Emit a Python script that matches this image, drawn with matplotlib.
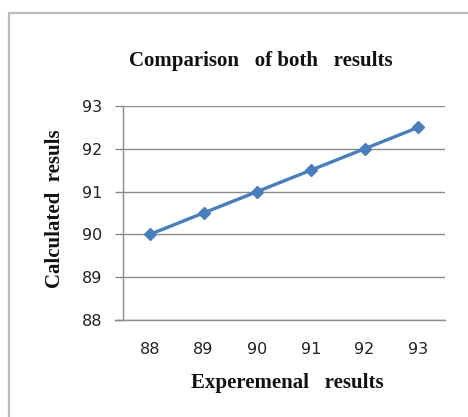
import matplotlib.pyplot as plt
from matplotlib.patches import Rectangle

experimental = ["88", "89", "90", "91", "92", "93"]
calculated = [90, 90.5, 91, 91.5, 92, 92.5]
y_ticks = [88, 89, 90, 91, 92, 93]

W, H = 468, 417
DPI = 100


def fx(px):
    return px / W


def fy(py):
    return 1 - py / H


def main():
    fig = plt.figure(figsize=(W / DPI, H / DPI), dpi=DPI)
    fig.patch.set_facecolor("white")

    # chart border
    fig.patches.append(Rectangle((fx(9), fy(470)), fx(480), fy(13) - fy(470),
                                 transform=fig.transFigure, fill=False,
                                 edgecolor="#bdbdbd", lw=1.6))

    ax = fig.add_axes([fx(123), fy(320), fx(445) - fx(123), fy(106) - fy(320)])
    pos = list(range(len(experimental)))
    ax.plot(pos, calculated, color="#4a7ebb", lw=2.4, marker="D", ms=6.5,
            markeredgecolor="#4a7ebb", markerfacecolor="#4a7ebb", zorder=3,
            clip_on=False)

    ax.set_xlim(-0.5, len(experimental) - 0.5)
    ax.set_ylim(88, 93)
    ax.set_yticks(y_ticks)
    ax.set_xticks(pos)
    ax.set_xticklabels(experimental)

    grid = "#8c8c8c"
    ax.yaxis.grid(True, color=grid, lw=1.0)
    ax.set_axisbelow(True)
    for s in ("top", "right"):
        ax.spines[s].set_visible(False)
    ax.spines["left"].set_color(grid)
    ax.spines["bottom"].set_color(grid)
    ax.spines["left"].set_linewidth(1.0)
    ax.spines["bottom"].set_linewidth(1.0)
    ax.spines["bottom"].set_bounds(-0.65, len(experimental) - 0.5)

    ax.tick_params(axis="y", length=6, width=1.0, color=grid, pad=9,
                   labelsize=11.5, labelcolor="#222222")
    ax.tick_params(axis="x", length=0, pad=16, labelsize=11.5,
                   labelcolor="#222222")
    for t in ax.get_xticklabels() + ax.get_yticklabels():
        t.set_family("DejaVu Sans")

    serif = "Liberation Serif"
    fig.text(fx(261), fy(61), "Comparison   of both   results", ha="center",
             va="center", fontsize=15, weight="bold", family=serif,
             color="#111111")
    fig.text(fx(287), fy(383), "Experemenal   results", ha="center",
             va="center", fontsize=15, weight="bold", family=serif,
             color="#111111")
    fig.text(fx(55), fy(209), "Calculated  resuls", ha="center",
             va="center", rotation=90, fontsize=15, weight="bold",
             family=serif, color="#111111")

    fig.savefig("out.png", dpi=DPI)
    plt.close(fig)


if __name__ == "__main__":
    main()
